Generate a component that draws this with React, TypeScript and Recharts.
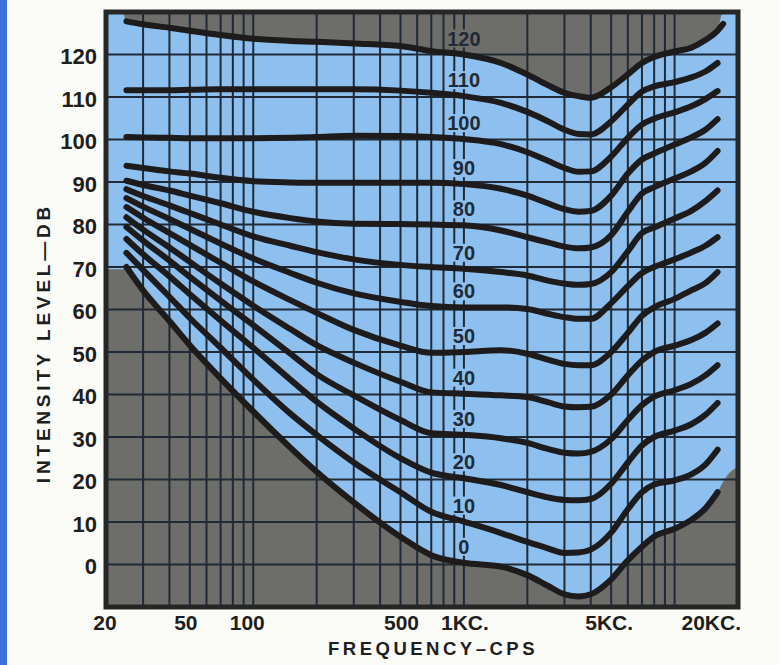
import React from "react";
import {
  ComposedChart,
  Area,
  Line,
  XAxis,
  YAxis,
  CartesianGrid,
  ReferenceLine,
  ReferenceArea,
  LabelList,
  Label,
} from "recharts";

// equal loudness contours (dB vs cps)
const FREQS = [20, 24, 25, 30, 40, 50, 70, 100, 150, 200, 300, 500, 700, 1000, 1500, 2000, 2500, 3000, 3500, 4000, 5000, 6000, 7000, 8000, 10000, 12000, 14000, 16000, 17000, 17500, 20000];

const PHON_0 = [null, null, 70, 64.5, 57.3, 51.6, 43.8, 36, 27.5, 21.8, 14.6, 6.5, 2.2, 0.4, -0.5, -2.5, -5, -7, -7.5, -7, -3.5, 1, 4.2, 6.6, 8.4, 10.5, 13.2, 17, null, null, null];
const PHON_10 = [null, null, 73.3, 69.3, 63, 58, 51, 43.5, 35.5, 30.5, 24, 17, 12.4, 10.1, 7.4, 5.3, 3.8, 2.7, 2.8, 3.5, 7.5, 13, 17, 18.8, 19.8, 21.2, 23.5, 27, null, null, null];
const PHON_20 = [null, null, 76.6, 73, 67.8, 63.6, 57.4, 51, 43.5, 38.3, 32, 25, 21.6, 20.3, 18.7, 17, 15.8, 15.2, 15.1, 15.4, 19, 24, 28, 30, 31.5, 33, 35.2, 38, null, null, null];
const PHON_30 = [null, null, 79.4, 76.2, 71.5, 67.7, 62.1, 56.3, 49.6, 44.8, 39.8, 34, 30.9, 30.5, 29.7, 28.6, 27.2, 26.3, 26.1, 26.5, 29.5, 34, 37.5, 39.5, 41, 42.5, 44.5, 46.9, null, null, null];
const PHON_40 = [null, null, 81.7, 78.8, 74.6, 71.2, 66.1, 60.9, 55.4, 51.6, 47.5, 43, 40.5, 40.2, 39.8, 39.4, 38.2, 37.2, 37, 37.1, 40, 44.5, 48, 50, 51.5, 52.8, 54.5, 56.7, null, null, null];
const PHON_50 = [null, null, 84.1, 81.6, 78, 75.2, 71, 66.6, 62.2, 59.2, 55.2, 51.5, 49.8, 50, 50.4, 49.6, 48.2, 47.2, 46.9, 46.9, 50, 54.5, 58.5, 60.5, 62.5, 64.5, 66.2, 68.8, null, null, null];
const PHON_60 = [null, null, 86.2, 84.2, 81.3, 79, 75.5, 72, 68.6, 66.3, 63.8, 61.8, 60.8, 60.5, 60.5, 60.1, 59, 58.2, 57.8, 57.8, 61.5, 65.5, 68.6, 70, 71.8, 73.4, 75, 77, null, null, null];
const PHON_70 = [null, null, 88.3, 86.7, 84.5, 82.7, 80, 77.2, 75, 73.5, 71.8, 70.5, 70, 69.6, 68.8, 68, 66.8, 66.1, 65.8, 66, 68.8, 73.7, 78, 79.3, 81.4, 83.2, 85.5, 88, null, null, null];
const PHON_80 = [null, null, 90.3, 89.3, 88, 86.8, 85, 83, 81.5, 80.7, 80.2, 80.1, 80, 79.8, 78.6, 77, 75.8, 74.8, 74.4, 74.6, 77.5, 83, 87.3, 88.8, 90.8, 92.5, 94.5, 97.3, null, null, null];
const PHON_90 = [null, null, 93.8, 93.3, 92.5, 92, 91, 90.2, 89.9, 89.8, 89.8, 89.8, 89.8, 89.5, 88.4, 86.8, 85, 83.6, 83, 83.2, 86.8, 92, 95.3, 96.7, 98.8, 100.5, 102.3, 104.8, null, null, null];
const PHON_100 = [null, null, 100.6, 100.5, 100.4, 100.3, 100.3, 100.3, 100.4, 100.6, 100.9, 100.8, 100.6, 100.1, 98.9, 97, 95, 93.3, 92.4, 92.5, 96, 100.4, 103.5, 104.9, 106.4, 107.8, 109.5, 111.4, null, null, null];
const PHON_110 = [null, null, 111.6, 111.6, 111.6, 111.7, 111.8, 111.8, 111.8, 111.8, 111.8, 111.5, 111, 110.2, 108.6, 106.5, 104.3, 102.3, 101.3, 101.2, 104.3, 108.2, 111.3, 112.5, 113.5, 114.6, 116, 118, null, null, null];
const PHON_120 = [null, null, 127.8, 127.1, 126.3, 125.6, 124.6, 123.7, 123.2, 123, 122.6, 122, 120.8, 120, 118, 115.3, 112.8, 111, 110.2, 109.8, 112.3, 115.3, 118, 119.4, 120.7, 121.6, 123.4, 125.6, 127.2, null, null];

const PHONS = [0, 10, 20, 30, 40, 50, 60, 70, 80, 90, 100, 110, 120];
const CURVES = [PHON_0, PHON_10, PHON_20, PHON_30, PHON_40, PHON_50, PHON_60, PHON_70, PHON_80, PHON_90, PHON_100, PHON_110, PHON_120];

// blue field outside the drawn contours (left and right margins)
const EDGE_FREQS = [20, 24, 16000, 17000, 17500, 20000];
const EDGE_LOW = [69.5, 69.5, 17, 19.5, 20.5, 23];
const EDGE_HIGH = [130, 130, 126, 130, 130, 130];

const X_TICKS = [20, 50, 100, 500, 1000, 5000, 20000];
const X_LABELS = ["20", "50", "100", "500", "1KC.", "5KC.", "20KC."];
const X_NUDGE = [-1, -4, -6, 1, 1, -2, 3];
const Y_TICKS = [0, 10, 20, 30, 40, 50, 60, 70, 80, 90, 100, 110, 120];
const GRID_X = [30, 40, 50, 60, 70, 80, 90, 100, 200, 300, 400, 500, 600, 700, 800, 900, 1000, 2000, 3000, 4000, 5000, 6000, 7000, 8000, 9000, 10000];

const PAPER = "#fbfbf7";
const STRIPE = "#3b6fd9";
const GRAY = "#6d6d69";
const BLUE = "#8dc0ef";
const GRID = "#1f2a36";
const INK = "#1d1b1b";
const FONT = "'Liberation Sans', Arial, sans-serif";

const rows = FREQS.map((f, i) => {
  const r: Record<string, any> = { f };
  CURVES.forEach((c, k) => {
    r["p" + PHONS[k]] = c[i];
  });
  const e = EDGE_FREQS.indexOf(f);
  const lo = e >= 0 ? EDGE_LOW[e] : PHON_0[i];
  const hi = e >= 0 ? EDGE_HIGH[e] : PHON_120[i];
  r.band = [lo, hi];
  return r;
});

function contourTag(phon: number) {
  return (p: any) => {
    if (p.value == null) return null;
    const x = Number(p.x);
    const y = Number(p.y) - 16;
    const w = String(phon).length * 11.2 + 4;
    return (
      <g>
        <rect x={x - w / 2} y={y - 9} width={w} height={18} fill={phon === 120 ? GRAY : BLUE} />
        <text x={x} y={y} dy={7} textAnchor="middle" fontFamily={FONT} fontWeight={700} fontSize={20} fill={GRID}>
          {phon}
        </text>
      </g>
    );
  };
}

function XTick(p: any) {
  const i = X_TICKS.indexOf(p.payload.value);
  const last = i === X_TICKS.length - 1;
  return (
    <text
      x={p.x + X_NUDGE[i]}
      y={p.y}
      dy={15}
      textAnchor={last ? "end" : "middle"}
      fontFamily={FONT}
      fontWeight={700}
      fontSize={21}
      fill="#1e1e1e"
    >
      {X_LABELS[i]}
    </text>
  );
}

const xTitle = (p: any) => {
  const vb = p.viewBox;
  return (
    <text x={vb.x + vb.width / 2 + 11} y={vb.y + 48} textAnchor="middle" fontFamily={FONT} fontWeight={700} fontSize={18.5} letterSpacing={3.5} fill="#1e1e1e">
      FREQUENCY–CPS
    </text>
  );
};

const yTitle = (p: any) => {
  const vb = p.viewBox;
  const cx = vb.x + 43;
  const cy = vb.y + 331;
  return (
    <text x={cx} y={cy} dy={7} transform={`rotate(-90 ${cx} ${cy})`} textAnchor="middle" fontFamily={FONT} fontWeight={700} fontSize={19} letterSpacing={3.8} fill="#1e1e1e">
      INTENSITY LEVEL—DB
    </text>
  );
};

export default function App() {
  return (
    <div style={{ position: "fixed", left: 0, top: 0, width: 779, height: 665, background: PAPER, overflow: "hidden" }}>
      <div style={{ position: "absolute", left: 0, top: 0, width: 7, height: 665, background: STRIPE }} />
      <ComposedChart width={779} height={665} data={rows} margin={{ top: 12, right: 41, bottom: 0, left: 0 }}>
        <CartesianGrid horizontal={false} vertical={false} fill={GRAY} fillOpacity={1} />
        <XAxis
          dataKey="f"
          type="number"
          scale="log"
          domain={[20, 20000]}
          allowDataOverflow
          ticks={X_TICKS}
          tick={<XTick />}
          tickSize={0}
          tickMargin={8}
          tickLine={false}
          axisLine={false}
          height={58}
        >
          <Label content={xTitle} />
        </XAxis>
        <YAxis
          type="number"
          domain={[-10, 130]}
          allowDataOverflow
          ticks={Y_TICKS}
          tick={{ fontFamily: FONT, fontWeight: 700, fontSize: 22, fill: "#1e1e1e", dy: 2 }}
          tickSize={0}
          tickMargin={9}
          tickLine={false}
          axisLine={false}
          width={106}
        >
          <Label content={yTitle} />
        </YAxis>

        <Area dataKey="band" type="monotone" fill={BLUE} fillOpacity={1} stroke="none" isAnimationActive={false} />

        {GRID_X.map((f) => (
          <ReferenceLine key={"gx" + f} x={f} stroke={GRID} strokeWidth={2} />
        ))}
        {Y_TICKS.map((v) => (
          <ReferenceLine key={"gy" + v} y={v} stroke={GRID} strokeWidth={2} />
        ))}

        {PHONS.map((ph) => (
          <Line
            key={ph}
            dataKey={"p" + ph}
            type="monotone"
            stroke={INK}
            strokeWidth={6}
            strokeLinecap="round"
            strokeLinejoin="round"
            dot={false}
            activeDot={false}
            isAnimationActive={false}
          >
            <LabelList dataKey={(r: any) => (r.f === 1000 ? ph : null)} content={contourTag(ph)} />
          </Line>
        ))}

        <ReferenceArea x1={20} x2={20000} y1={-10} y2={130} fill="none" stroke="#262626" strokeWidth={5} />
      </ComposedChart>
    </div>
  );
}
